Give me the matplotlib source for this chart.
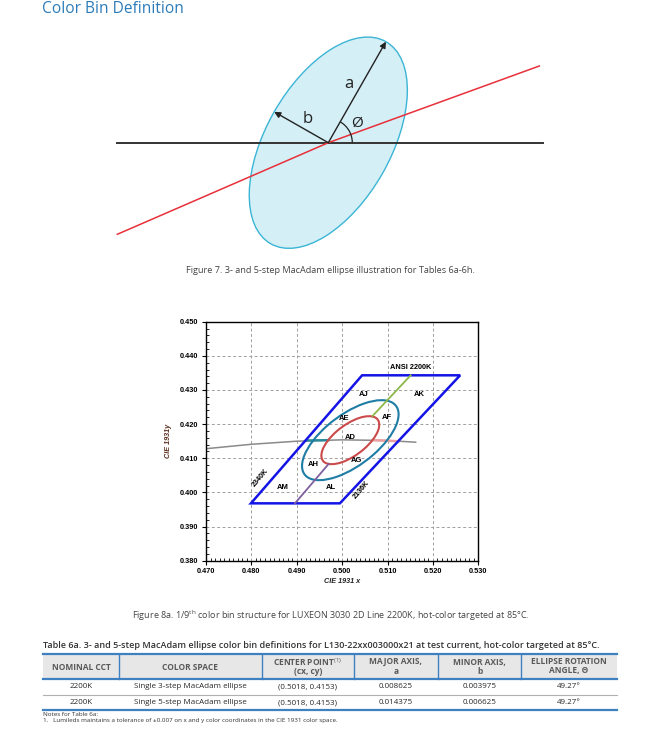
import numpy as np
import matplotlib.pyplot as plt
from matplotlib.patches import Ellipse, Arc, Rectangle, Polygon
from matplotlib.ticker import MultipleLocator

plt.rcParams['font.family'] = ['Open Sans', 'DejaVu Sans']
plt.rcParams['mathtext.fontset'] = 'custom'
plt.rcParams['mathtext.rm'] = 'Open Sans'
plt.rcParams['mathtext.bf'] = 'Open Sans:bold'

ARIAL = ['Liberation Sans', 'DejaVu Sans']

# ── Table 6a data ─────────────────────────────────────────────
header_line1 = ['NOMINAL CCT', 'COLOR SPACE', 'CENTER POINT$^{(1)}$',
                'MAJOR AXIS,', 'MINOR AXIS,', 'ELLIPSE ROTATION']
header_line2 = ['', '', '(cx, cy)', 'a', 'b', 'ANGLE, Θ']
nominal_cct = ['2200K', '2200K']
color_space = ['Single 3-step MacAdam ellipse', 'Single 5-step MacAdam ellipse']
center_cx = [0.5018, 0.5018]
center_cy = [0.4153, 0.4153]
major_axis = [0.008625, 0.014375]
minor_axis = [0.003975, 0.006625]
rotation_deg = [49.27, 49.27]

# ── Figure 8a data (CIE 1931 x, y) ───────────────────────────
bin_x = [0.4799, 0.4995, 0.5260, 0.5044]
bin_y = [0.3968, 0.3968, 0.4343, 0.4343]
locus_x = [0.470, 0.480, 0.490, 0.500, 0.510, 0.5162]
locus_y = [0.4128, 0.4141, 0.4150, 0.4154, 0.4152, 0.4147]
teal_x = [0.4923, 0.4969]
teal_y = [0.4152, 0.4153]
pink_x = [0.5067, 0.5124]
pink_y = [0.4153, 0.4150]
green_x = [0.5067, 0.5151]
green_y = [0.4224, 0.4343]
purple_x = [0.4970, 0.4896]
purple_y = [0.4083, 0.3968]
bin_names = ['AJ', 'AK', 'AE', 'AF', 'AD', 'AH', 'AG', 'AM', 'AL']
bin_label_x = [0.5047, 0.5169, 0.5005, 0.5098, 0.5017, 0.4936, 0.5031, 0.4870, 0.4975]
bin_label_y = [0.4287, 0.4287, 0.4216, 0.4220, 0.4160, 0.4082, 0.4093, 0.4014, 0.4014]
iso_names = ['2340K', '2136K']
iso_x = [0.4820, 0.5043]
iso_y = [0.4044, 0.4007]

# ── Figure 7 schematic geometry (page pixels) ────────────────
diag_cx, diag_cy = 328.3, 142.7
diag_a, diag_b = 116.3, 62.3
diag_angle = 60.3
red_x = [117.3, 328.3, 539.3]
red_y = [234.3, 142.7, 66.0]

fig = plt.figure(figsize=(6.63, 7.48), dpi=100)
page = fig.add_axes([0, 0, 1, 1])
page.set_xlim(0, 663)
page.set_ylim(748, 0)
page.axis('off')

page.text(42.0, 9, 'Color Bin Definition', fontsize=11.2, color='#2b7bb9',
          ha='left', va='center')

# ── Figure 7: ellipse schematic ──────────────────────────────
page.add_patch(Ellipse((diag_cx, diag_cy), 2 * diag_a, 2 * diag_b, angle=-diag_angle,
                       fc='#d4eff6', ec='#3bb5d5', lw=1.0, zorder=1))
page.plot([117.3, 542.7], [143.3, 143.3], color='#333333', lw=1.4, zorder=2)
page.plot(red_x, red_y, color='#e8303a', lw=1.1, zorder=3)
th = np.radians(diag_angle)
tip_a = (diag_cx + diag_a * np.cos(th), diag_cy - diag_a * np.sin(th))
tip_b = (diag_cx - diag_b * np.sin(th), diag_cy - diag_b * np.cos(th))
for tip in (tip_a, tip_b):
    page.annotate('', xy=tip, xytext=(diag_cx, diag_cy), zorder=4,
                  arrowprops=dict(arrowstyle='-|>', color='#222222', lw=1.0,
                                  mutation_scale=9, shrinkA=0, shrinkB=0))
page.add_patch(Arc((diag_cx, diag_cy), 48, 48, theta1=-diag_angle, theta2=0,
                   color='#222222', lw=0.9, zorder=4))
page.text(349, 84, 'a', fontsize=12, color='#222222', ha='center', va='center')
page.text(307.3, 119, 'b', fontsize=12, color='#222222', ha='center', va='center')
page.text(357, 123, 'Ø', fontsize=11, color='#222222', ha='center', va='center')
page.text(330, 270.5, 'Figure 7. 3- and 5-step MacAdam ellipse illustration for Tables 6a-6h.',
          fontsize=6.6, color='#444444', ha='center', va='center')

# ── Figure 8a: color bin chart ───────────────────────────────
ax = fig.add_axes([206 / 663, 1 - 560.7 / 748, 272.3 / 663, 239 / 748])
ax.set_xlim(0.470, 0.530)
ax.set_ylim(0.380, 0.450)
ax.set_xticks(np.arange(0.470, 0.5301, 0.010))
ax.set_yticks(np.arange(0.380, 0.4501, 0.010))
ax.set_xticklabels([f'{v:.3f}' for v in ax.get_xticks()])
ax.set_yticklabels([f'{v:.3f}' for v in ax.get_yticks()])
ax.xaxis.set_minor_locator(MultipleLocator(0.001))
ax.yaxis.set_minor_locator(MultipleLocator(0.002))
ax.tick_params(which='major', direction='out', length=3, width=0.8, labelsize=5.3, pad=2.5)
ax.tick_params(which='minor', direction='in', length=2, width=0.6)
for lbl in ax.get_xticklabels() + ax.get_yticklabels():
    lbl.set_fontweight('bold')
    lbl.set_family(ARIAL)
for sp in ax.spines.values():
    sp.set_linewidth(1.0)
    sp.set_color('black')
ax.grid(True, which='major', ls=(0, (3, 2.5)), color='#a0a0a0', lw=0.7)
ax.set_axisbelow(True)

ax.plot(locus_x, locus_y, color='#8a8a8a', lw=1.1, zorder=2)
ax.plot(teal_x, teal_y, color='#2a8a9a', lw=1.8, zorder=3)
ax.plot(pink_x, pink_y, color='#eaa0a0', lw=1.8, zorder=3)
ax.add_patch(Polygon(list(zip(bin_x, bin_y)), closed=True, fill=False,
                     ec='#1414e6', lw=1.8, zorder=4))
ell_colors = ['#cc4a4a', '#1f7da5']
for i in range(len(major_axis)):
    ax.add_patch(Ellipse((center_cx[i], center_cy[i]), 2 * major_axis[i], 2 * minor_axis[i],
                         angle=rotation_deg[i], fill=False, ec=ell_colors[i], lw=1.5, zorder=4))
ax.plot(green_x, green_y, color='#8db84a', lw=1.3, zorder=4)
ax.plot(purple_x, purple_y, color='#7e5fa0', lw=1.3, zorder=4)

for name, x, y in zip(bin_names, bin_label_x, bin_label_y):
    ax.text(x, y, name, fontsize=5.5, fontweight='bold', family=ARIAL,
            ha='center', va='center', zorder=5)
for name, x, y in zip(iso_names, iso_x, iso_y):
    ax.text(x, y, name, fontsize=5.2, fontweight='bold', family=ARIAL, rotation=50,
            ha='center', va='center', zorder=5)
ax.text(0.5150, 0.4366, 'ANSI 2200K', fontsize=5.3, fontweight='bold', family=ARIAL,
        ha='center', va='center', zorder=5)

ax.set_xlabel('CIE 1931 x', fontsize=5.2, fontweight='bold', style='italic',
              family=ARIAL, color='#222222', labelpad=2)
ax.set_ylabel('CIE 1931y', fontsize=5.2, fontweight='bold', style='italic',
              family=ARIAL, color='#5a2a1a', labelpad=6)

page.text(331, 615.5,
          'Figure 8a. 1/9$^{\\mathrm{th}}$ color bin structure for LUXEON 3030 2D Line 2200K, '
          'hot-color targeted at 85°C.',
          fontsize=6.5, color='#444444', ha='center', va='center')

# ── Table 6a ─────────────────────────────────────────────────
page.text(42.7, 645.7,
          'Table 6a. 3- and 5-step MacAdam ellipse color bin definitions for '
          'L130-22xx003000x21 at test current, hot-color targeted at 85°C.',
          fontsize=6.45, fontweight='semibold', color='#333333', ha='left', va='center')

col_edges = [42.7, 119.3, 261.7, 354.0, 437.7, 521.3, 616.7]
head_top, head_bot, row_sep, tbl_bot = 654.0, 679.3, 694.5, 710.3
row_y = [686.7, 702.7]
blue = '#3f80c0'

page.add_patch(Rectangle((col_edges[0], head_top), col_edges[-1] - col_edges[0],
                         head_bot - head_top, fc='#e7e7e7', ec='none'))
page.plot([col_edges[0], col_edges[-1]], [head_top] * 2, color=blue, lw=1.6)
page.plot([col_edges[0], col_edges[-1]], [head_bot] * 2, color=blue, lw=1.6)
page.plot([col_edges[0], col_edges[-1]], [row_sep] * 2, color='#b0b0b0', lw=0.8)
page.plot([col_edges[0], col_edges[-1]], [tbl_bot] * 2, color=blue, lw=1.6)
for xe in col_edges[1:-1]:
    page.plot([xe, xe], [head_top, head_bot], color=blue, lw=1.0)

col_centers = [(col_edges[i] + col_edges[i + 1]) / 2 for i in range(len(col_edges) - 1)]
for xc, l1, l2 in zip(col_centers, header_line1, header_line2):
    if l2:
        page.text(xc, 662.0, l1, fontsize=6, fontweight='bold', color='#5a5a5a',
                  ha='center', va='center')
        page.text(xc, 671.0, l2, fontsize=6, fontweight='bold', color='#5a5a5a',
                  ha='center', va='center')
    else:
        page.text(xc, (head_top + head_bot) / 2 + 0.5, l1, fontsize=6, fontweight='bold',
                  color='#5a5a5a', ha='center', va='center')

for r in range(len(nominal_cct)):
    cells = [nominal_cct[r], color_space[r],
             f'({center_cx[r]:.4f}, {center_cy[r]:.4f})',
             f'{major_axis[r]:.6f}', f'{minor_axis[r]:.6f}', f'{rotation_deg[r]:.2f}°']
    for xc, cell in zip(col_centers, cells):
        page.text(xc, row_y[r], cell, fontsize=5.8, color='#2a2a2a', ha='center', va='center')

page.text(42.7, 714.8, 'Notes for Table 6a:', fontsize=4.5, color='#333333', ha='left', va='center')
page.text(42.7, 720.8, '1.   Lumileds maintains a tolerance of ±0.007 on x and y color coordinates '
          'in the CIE 1931 color space.', fontsize=4.5, color='#333333', ha='left', va='center')

fig.savefig('out.png', dpi=100)
